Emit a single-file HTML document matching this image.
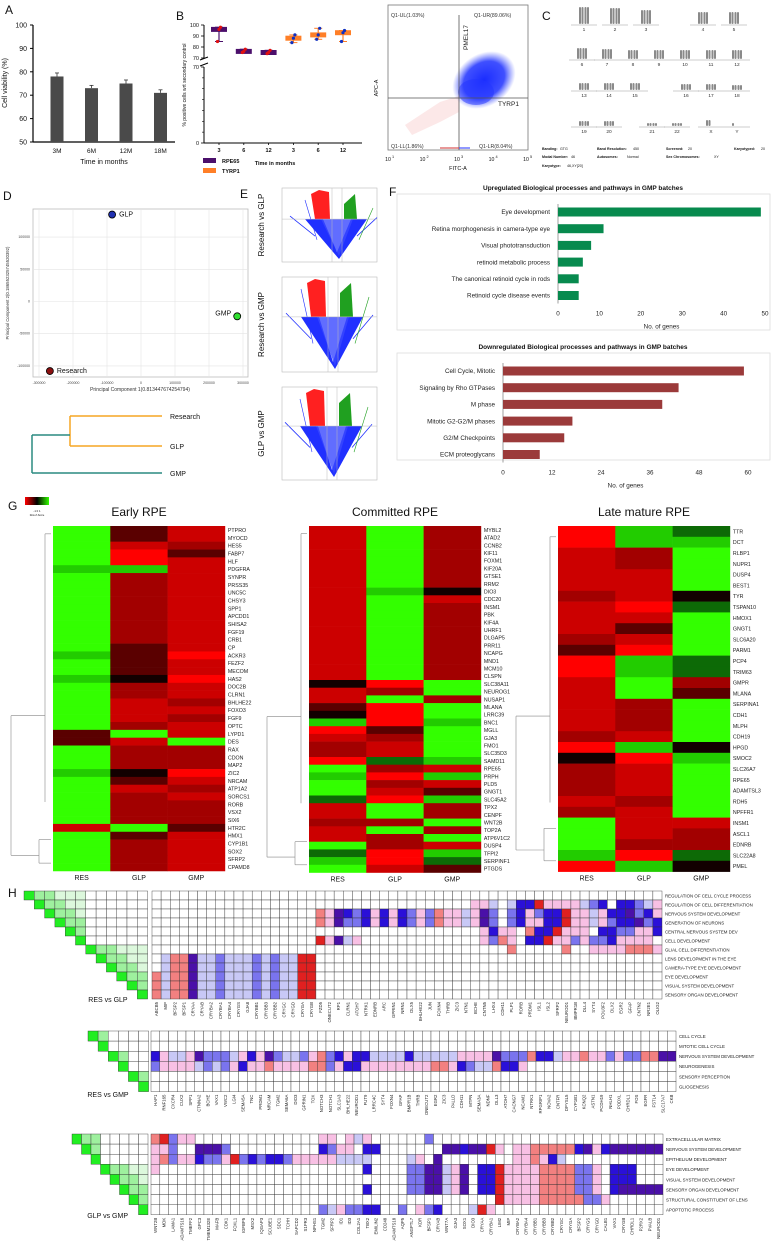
<!DOCTYPE html>
<html><head><meta charset="utf-8"><style>
html,body{margin:0;padding:0;background:#fff}
svg{display:block;font-family:"Liberation Sans",Arial,sans-serif}
</style></head><body>
<svg id="fig" width="775" height="1249" viewBox="0 0 775 1249" xmlns="http://www.w3.org/2000/svg">
<g id="root"></g>
</svg>
<script>
// ---------- DATA ----------
const aCats=["3M","6M","12M","18M"];
const aVals=[78,73,75,71];
const aErr=[1.5,1.2,1.5,1.3];
const bCats=["3","6","12","3","6","12"];
const bMed=[96,76,75,88,91,93];
const bMin=[85,75,74,84,87,85];
const bMax=[98,78,77,91,97,95];
const pcaLabels=["GLP","GMP","Research"];
const pcaX=[-85000,283000,-268000];
const pcaY=[135000,-23000,-108000];
const upCats=["Eye development","Retina morphogenesis in camera-type eye","Visual phototransduction","retinoid metabolic process","The canonical retinoid cycle in rods","Retinoid cycle disease events"];
const upVals=[49,11,8,6,5,5];
const upTicks=[0,10,20,30,40,50];
const dnCats=["Cell Cycle, Mitotic","Signaling by Rho GTPases","M phase","Mitotic G2-G2/M phases","G2/M Checkpoints","ECM proteoglycans"];
const dnVals=[59,43,39,17,15,9];
const dnTicks=[0,12,24,36,48,60];
const earlyGenes=["PTPRO","MYOCD","HES5","FABP7","HLF","PDGFRA","SYNPR","PRSS35","UNC5C","CHSY3","SPP1","APCDD1","SHISA2","FGF19","CRB1","CP","ACKR3","FEZF2","MECOM","HAS2","DOC2B","CLRN1","BHLHE22","FOXO3","FGF9","OPTC","LYPD1","DES","RAX","CDON","MAP2","ZIC2","NRCAM","ATP1A2","SORCS1","RORB","VSX2","SIX6","HTR2C","HMX1","CYP1B1","SOX2","SFRP2","CPAMD8"];
const earlyVals=["Gkr","Gkr","Grm","GRk","GRr","ggr","Gmr","Gmr","Gmr","Gmr","Gmr","Gmr","Gmr","Gmr","Gmr","Gkr","gkR","Gkr","Gkr","gbR","Gmr","Gmr","Grm","Grr","Grm","Gmr","kGr","krG","Gmm","Gmm","Gmm","gbR","Gkr","Grm","Gmr","Gmm","Gmm","Gmm","rGk","Gkr","Gmr","Gmr","Gmr","Gmr"];
const commGenes=["MYBL2","ATAD2","CCNB2","KIF11","FOXM1","KIF20A","GTSE1","RRM2","DIO3","CDC20","INSM1","PBK","KIF4A","UHRF1","DLGAP5","PRR11","NCAPG","MND1","MCM10","CLSPN","SLC38A11","NEUROG1","NUSAP1","MLANA","LRRC39","BNC1","MGLL","GJA3","FMO1","SLC35D3","SAMD11","RPE65","PRPH","PLD5","GNGT1","SLC45A2","TPX2","CENPF","WNT2B","TOP2A","ATP6V1C2","DUSP4","TFPI2","SERPINF1","PTGDS"];
const commVals=["rGm","rGm","rGm","rGm","rGm","rGm","rGm","rGm","rgb","rGr","rGm","rGm","rGm","rGm","rGm","rGm","rGm","rGm","rGm","rGm","bRG","rmG","rGm","kRG","bRG","gRg","RkG","rmG","mrG","mrG","Rdg","Gmr","gRg","Gmr","Grk","dRg","rGm","rGm","mmG","rGm","rmG","Gmr","dRg","gRd","Grk"];
const lateGenes=["TTR","DCT","RLBP1","NUPR1","DUSP4","BEST1","TYR","TSPAN10","HMOX1","GNGT1","SLC6A20","PARM1","PCP4","TRIM63","GMPR","MLANA","SERPINA1","CDH1","MLPH","CDH19","HPGD","SMOC2","SLC26A7","RPE65","ADAMTSL3","RDH5","NPFFR1","INSM1","ASCL1","EDNRB","SLC22A8","PMEL"];
const lateVals=["Rgd","Rgg","rmG","rmG","rrG","rrG","mrb","rRd","rrG","rkG","mrG","kRG","Rgd","Rgd","rGm","rGk","rmG","rmG","rmG","mrG","Rgb","bRg","mrG","mrG","mrG","rmG","mrG","Grr","Grm","Gmm","gRd","Rgb"];
const h1Rows=["REGULATION OF CELL CYCLE PROCESS","REGULATION OF CELL DIFFERENTIATION","NERVOUS SYSTEM DEVELOPMENT","GENERATION OF NEURONS","CENTRAL NERVOUS SYSTEM DEV","CELL DEVELOPMENT","GLIAL CELL DIFFERENTIATION","LENS DEVELOPMENT IN THE EYE","CAMERA-TYPE EYE DEVELOPMENT","EYE DEVELOPMENT","VISUAL SYSTEM DEVELOPMENT","SENSORY ORGAN DEVELOPMENT"];
const h1Genes=["ABCB5","MIP","BFSP2","BFSP1","CRYAA","CRYAB","CRYBA2","CRYBA1","CRYBA4","CRYGS","GJA8","CRYBB1","CRYBB3","CRYBB2","CRYGC","CRYGD","CRYGA","CRYGB","FZD5","ONECUT2","RP1","CLRN1","ATOH7","NTRK1","EDNRB","ARC","GPRIN1","NRN1","DLX5","BHLHE22","JUN","FOXN4","THRB","ZIC3","NTN1","BCHE","CNTN5","LHX4","CDH11","PLP1","RORB","PRDM1","ISL1","ISL2","SFRP2","NEUROD1","BMPR1B","DLL4","SYT4","POU3F2","DLX2","EGR2","GFAP","CNTN2","NR2E1","OLIG2"];
const h1Vals=["........................................................",
"...................................ppl.lBBRpppplbB.BBblpB",
"..................rpPBbBpBpBbpbrpplpPb.bBpbBBRpplpBBPbBpB",
"..................rpPbbBpBpBbpbrpplpPb.bBppBBRpplpbBBPbBpB",
"....................................pBpp.rBBRppp.BBbbppB",
"..................RpPlp.............pbrp.BBRppbpbbBpppp.B",
".......................................r.....r..pppprrrpp",
".lrrPllblllblbllRR......................................",
".lrrPllblllblbllRR......................................",
"rlrrPllblllblbllRR......................................",
"rlrrPllblllblbllRR......................................",
"rlrrPllblllblbllRR......................................"];
const h2Rows=["CELL CYCLE","MITOTIC CELL CYCLE","NERVOUS SYSTEM DEVELOPMENT","NEUROGENESIS","SENSORY PERCEPTION","GLIOGENESIS"];
const h2Genes=["HAP1","RNF165","CXCR4","CUX2","SPP1","CTNNA2","BCHE","VAX1","VWC2","LGI4","SEMA5A","TNC","PRDM1","NRCAM","TGM2","SEMA6A","DIO3","GPRIN1","TOX","NOTCH3","NOTCH1","SLC1A3","BHLHE22","NEUROD1","FUT9","LRRC4C","SYT4","FOXN4","GFAP","BMPR1B","THRB","ONECUT2","EGR2","ZIC3","PALLD","CDH11","MTPN","SEMA3A","NDNF","DLL3","ATOH7","CACNG7","NCAM1","NTRK1","RPGRIP1","NOVA2","CNTFR","DPYSL5","CYP1B1","KCNQ2","ASTN1","PCDH19","NHLH1","PODXL","CHRDL1","FOS","EGFR","FSTL4","SLC17A7","CKB"];
const h2Vals=["............................................................",
"............................................................",
"BpllpPbbblpBpPbllbprbBpBBllllBlllllppppPbbbrBBlpprppbpbbrrPPR",
"bpppplblbpBpprpppprrbpBBpppppppprrpBbllrBBp.................",
"............................................................",
"............................................................"];
const h3Rows=["EXTRACELLULAR MATRIX","NERVOUS SYSTEM DEVELOPMENT","EPITHELIUM DEVELOPMENT","EYE DEVELOPMENT","VISUAL SYSTEM DEVELOPMENT","SENSORY ORGAN DEVELOPMENT","STRUCTURAL CONSTITUENT OF LENS","APOPTOTIC PROCESS"];
const h3Genes=["WNT2B","MDK","LAMA1","ADAMTS16","TMEFF2","GPC3","TMEM132E","MAFB","CDK1","FOXL1","IGFBP5","MSX2","IQGAP3","SCUBE1","SDC1","TCHH","SAPCD2","S1PR3","NPHS1","TGM2","SFRP2","ID1","ID3","COL2A1","TBX2","EMILIN2","CD248","ADAMTS18","AQP5","ANGPTL7","KDR","BFSP1","CRYAB","WNT7A","GJA3","SOX1","DIO3","CRYAA","CRYBA1","LIM2","MIP","CRYBA2","CRYBA4","CRYBB1","CRYBB3","CRYBB2","CRYGC","CRYGA","BFSP2","CRYGS","CRYGD","CALB1","VAX1","CRYGB","CHRDL1","P2RX2","PVALB","NEUROD1"];
const h3Vals=["rRbpp..............pp.plp......b..........................",
"ppb..PPPb..........Bbpp.BB.......PPBPPRp.pprrrrrBPpBPPPPPP",
"prbppBbbpRbBbBBbpppppllll....lp.P........pprpBl...........",
"p.......................B....bbPPlpP.BBRpppprrrrbbp.BBB...",
".............................bbPPlpP.BBRpppprrrrbbp.BBB...",
"........................B....bbPPlpP.BBRpppprrrrbbp.BPPPPP",
".......................................Rpppprrrrrbbp......",
"...................blpbbBB..b.pbB...lRp..................."];

// ---------- HELPERS ----------
const NS="http://www.w3.org/2000/svg";
const root=document.getElementById('root');
function mk(tag,attrs,parent){const e=document.createElementNS(NS,tag);for(const k in attrs)e.setAttribute(k,attrs[k]);(parent||root).appendChild(e);return e;}
function tx(x,y,s,size,opts,parent){opts=opts||{};const e=mk('text',{x:x,y:y,'font-size':size,fill:opts.fill||'#111','text-anchor':opts.anchor||'start','font-weight':opts.bold?'bold':'normal'},parent);if(opts.rot!==undefined)e.setAttribute('transform','rotate('+opts.rot+' '+x+' '+y+')');e.textContent=s;return e;}
function ln(x1,y1,x2,y2,c,w,parent){return mk('line',{x1:x1,y1:y1,x2:x2,y2:y2,stroke:c||'#000','stroke-width':w||1},parent);}
function grp(name){const g=mk('g',{});return g;}

// ---------- PANEL A ----------
(function(){
const g=grp('panel-a-viability-chart');
let t=tx(5,14,'A',12,{},g);
const y=v=>142-(v-50)*117/50;
const x=i=>57+i*34.5;
ln(33,25,33,142,'#000',1.2,g);ln(33,142,175,142,'#000',1.2,g);
for(let v=50;v<=100;v+=10){ln(30,y(v),33,y(v),'#000',1,g);tx(27,y(v)+2.5,String(v),7,{anchor:'end'},g);}
aVals.forEach((v,i)=>{
 const r=mk('rect',{x:x(i)-6.5,y:y(v),width:13,height:142-y(v),fill:'#4a4a4a'},g);
 
 ln(x(i),y(v),x(i),y(v+aErr[i]),'#333',0.8,g);ln(x(i)-2,y(v+aErr[i]),x(i)+2,y(v+aErr[i]),'#333',0.8,g);
 tx(x(i),153,aCats[i],6.5,{anchor:'middle'},g);
});
tx(104,164,'Time in months',7,{anchor:'middle'},g);
tx(7,83,'Cell viability (%)',7,{anchor:'middle',rot:-90},g);
})();

// ---------- PANEL B ----------
(function(){
const g=grp('panel-b-boxplot');
tx(176,20,'B',12,{},g);
const yU=v=>58-(v-70)*33/30;
const yL=v=>143-v*76/70;
const x=i=>219+i*24.8;
ln(204,25,204,58,'#000',1,g);ln(204,67,204,143,'#000',1,g);ln(200,60,208,57,'#000',1,g);ln(200,66,208,63,'#000',1,g);
ln(204,143,362,143,'#000',1,g);
[100,90,80,70].forEach(v=>{ln(201,yU(v),204,yU(v),'#000',0.8,g);tx(199,yU(v)+2,String(v),5.5,{anchor:'end'},g);});
[70,0].forEach(v=>{ln(201,yL(v),204,yL(v),'#000',0.8,g);tx(199,yL(v)+2,String(v),5.5,{anchor:'end'},g);});
for(let v=10;v<70;v+=10)ln(202,yL(v),204,yL(v),'#000',0.6,g);
bMed.forEach((m,i)=>{
 const col=i<3?'#4b0f6b':'#ff7f27', dot=i<3?'#e01010':'#1030c0';
 ln(x(i),yU(bMin[i]),x(i),yU(bMax[i]),col,1.2,g);
 ln(x(i)-4,yU(bMin[i]),x(i)+4,yU(bMin[i]),col,1,g);ln(x(i)-4,yU(bMax[i]),x(i)+4,yU(bMax[i]),col,1,g);
 const r=mk('rect',{x:x(i)-8,y:yU(m)-2.5,width:16,height:5,fill:col},g);
 
 [bMin[i],m,bMax[i]].forEach((v,k)=>mk('circle',{cx:x(i)+(k-1)*1.5,cy:yU(v),r:1.6,fill:dot},g));
 ln(x(i),143,x(i),145,'#000',0.8,g);tx(x(i),152,bCats[i],5.5,{anchor:'middle',bold:true},g);
});
tx(186,85,'% positive cells wrt secondary control',5,{anchor:'middle',rot:-90},g);
const l1=mk('rect',{x:203,y:158,width:13,height:5,fill:'#4b0f6b'},g);
tx(222,163,'RPE65',5.5,{bold:true},g);
const l2=mk('rect',{x:203,y:168,width:13,height:5,fill:'#ff7f27'},g);
tx(222,173,'TYRP1',5.5,{bold:true},g);
tx(275,165,'Time in months',5.5,{anchor:'middle',bold:true},g);
})();

// ---------- FLOW CYTOMETRY ----------
(function(){
const g=grp('flow-cytometry-plot');
mk('rect',{x:388,y:5,width:140,height:145,fill:'#fff',stroke:'#777','stroke-width':0.8},g);
const grad=mk('radialGradient',{id:'blob',cx:'50%',cy:'50%',r:'50%'},g);
mk('stop',{offset:'0%','stop-color':'#1a2cff'},grad);mk('stop',{offset:'65%','stop-color':'#2a3cff','stop-opacity':0.9},grad);mk('stop',{offset:'100%','stop-color':'#5060ff','stop-opacity':0},grad);
mk('ellipse',{cx:484,cy:80,rx:34,ry:26,fill:'url(#blob)',transform:'rotate(-35 484 80)'},g);
mk('ellipse',{cx:476,cy:92,rx:18,ry:13,fill:'#2233ff','fill-opacity':0.5},g);
mk('polygon',{points:'405,125 440,102 459,96 459,112 440,122 412,135',fill:'#f08080','fill-opacity':0.18},g);
ln(459,15,459,150,'#555',0.8,g);ln(388,98,528,98,'#555',0.8,g);
ln(440,148,459,148,'#d03030',1,g);ln(459,148,470,148,'#2030ff',1,g);
tx(391,17,'Q1-UL(1.03%)',5.2,{fill:'#333'},g);tx(474,17,'Q1-UR(89.06%)',5.2,{fill:'#333'},g);
tx(391,148,'Q1-LL(1.86%)',5.2,{fill:'#333'},g);tx(479,148,'Q1-LR(8.04%)',5.2,{fill:'#333'},g);
tx(468,50,'PMEL17',6.5,{rot:-90,fill:'#222'},g);tx(498,106,'TYRP1',6.5,{fill:'#222'},g);
['1','2','3','4','5'].forEach((e,i)=>{const xx=388+i*34.5;tx(xx,161,'10',5.2,{anchor:'middle'},g);tx(xx+4,158,e,3.8,{},g);});
tx(458,170,'FITC-A',5.5,{anchor:'middle'},g);
tx(378,88,'APC-A',5.5,{anchor:'middle',rot:-90},g);
})();

// ---------- KARYOTYPE C ----------
(function(){
const g=grp('panel-c-karyotype');
tx(542,20,'C',12,{},g);
const rows=[[["1",584],["2",615],["3",646],["4",703],["5",734]],[["6",582],["7",607],["8",633],["9",659],["10",685],["11",711],["12",737]],[["13",584],["14",609],["15",635],["16",686],["17",711],["18",737]],[["19",584],["20",609],["21",652],["22",677],["X",711],["Y",737]]];
const ly=[25,60,91,127],hts=[[17,16,14,12,12],[11,10,9,9,9,9,9],[7,7,7,6,6,5],[5,5,3,3,6,3]];
rows.forEach((r,ri)=>r.forEach(([n,x],ci)=>{
 ln(x-13,ly[ri],x+13,ly[ri],'#999',0.6,g);
 const h=hts[ri][ci];
 [-4,-1.5,1.5,4].forEach((d,k)=>{ if(n==='Y'&&k>0)return; if(n==='X'&&k>1)return; mk('rect',{x:x+d-1,y:ly[ri]-h-1,width:2,height:h,rx:1,fill:'#8a8a8a'},g);});
 tx(x,ly[ri]+6,n,4.8,{anchor:'middle',fill:'#333'},g);
}));
tx(542,150,'Banding:',3.6,{bold:true},g);tx(560,150,'GTG',3.6,{},g);
tx(597,150,'Band Resolution:',3.6,{bold:true},g);tx(633,150,'450',3.6,{},g);
tx(666,150,'Screened:',3.6,{bold:true},g);tx(688,150,'20',3.6,{},g);
tx(734,150,'Karyotyped:',3.6,{bold:true},g);tx(761,150,'20',3.6,{},g);
tx(542,158,'Modal Number:',3.6,{bold:true},g);tx(571,158,'46',3.6,{},g);
tx(597,158,'Autosomes:',3.6,{bold:true},g);tx(627,158,'Normal',3.6,{},g);
tx(666,158,'Sex Chromosomes:',3.6,{bold:true},g);tx(714,158,'XY',3.6,{},g);
tx(542,167,'Karyotype:',3.6,{bold:true},g);tx(567,167,'46,XY[20]',3.6,{},g);
})();

// ---------- PANEL D ----------
(function(){
const g=grp('panel-d-pca');
tx(3,200,'D',12,{},g);
const X=v=>141+v*(204/600000), Y=v=>301.5-v*(32.2/50000);
mk('rect',{x:33,y:209,width:215,height:168,fill:'#fff',stroke:'#bbb','stroke-width':0.8},g);
[-300000,-200000,-100000,0,100000,200000,300000].forEach(v=>{ln(X(v),209,X(v),377,'#e4e4e4',0.6,g);tx(X(v),384,String(v),3.5,{anchor:'middle',fill:'#444'},g);});
[100000,50000,0,-50000,-100000].forEach(v=>{ln(33,Y(v),248,Y(v),'#e4e4e4',0.6,g);tx(30,Y(v)+1,String(v),3.5,{anchor:'end',fill:'#444'},g);});
tx(140,391,'Principal Component 1(0.813447674254794)',5,{anchor:'middle',fill:'#333'},g);
tx(9,293,'Principal Component 2(0.186552325745520392)',4.3,{anchor:'middle',rot:-90,fill:'#333'},g);
const cols=['#2030b0','#30e030','#8b1010'];
pcaLabels.forEach((l,i)=>{
 const c=mk('circle',{cx:X(pcaX[i]),cy:Y(pcaY[i]),r:3.5,fill:cols[i],stroke:'#000','stroke-width':0.8},g);
 
 if(l==='GMP')tx(X(pcaX[i])-6,Y(pcaY[i])-1,l,7,{anchor:'end'},g);else tx(X(pcaX[i])+7,Y(pcaY[i])+2,l,7,{},g);
});
ln(70,416,162,416,'#f5a623',1.5,g);ln(70,446,162,446,'#f5a623',1.5,g);ln(70,416,70,446,'#f5a623',1.5,g);
ln(32,435,70,435,'#2a8a80',1.5,g);ln(32,435,32,473,'#2a8a80',1.5,g);ln(32,473,162,473,'#2a8a80',1.5,g);
tx(170,419,'Research',7,{},g);tx(170,449,'GLP',7,{},g);tx(170,476,'GMP',7,{},g);
})();

// ---------- PANEL E ----------
(function(){
const g=grp('panel-e-volcano-plots');
tx(240,198,'E',12,{},g);
const plots=[[188,262,337,'Research vs GLP'],[277,372,333,'Research vs GMP'],[387,480,332,'GLP vs GMP']];
plots.forEach(([t,b,cx,lab])=>{
 const sg=mk('g',{},g);
 mk('rect',{x:282,y:t,width:95,height:b-t,fill:'#fff',stroke:'#bbb','stroke-width':0.6},sg);
 const th=t+(b-t)*0.42;
 mk('polygon',{points:`${cx-32},${th} ${cx-14},${th} ${cx},${b-10} ${cx+14},${th} ${cx+30},${th} ${cx+2},${b-3}`,fill:'#2030ff'},sg);
 mk('polygon',{points:`${cx-16},${th} ${cx+16},${th} ${cx+2},${b-6}`,fill:'#3a48ff','fill-opacity':0.8},sg);
 mk('polygon',{points:`${cx-26},${t+6} ${cx-18},${t+2} ${cx-8},${t+4} ${cx-7},${th} ${cx-22},${th}`,fill:'#ff2020'},sg);
 mk('polygon',{points:`${cx+7},${t+16} ${cx+18},${t+6} ${cx+20},${th} ${cx+7},${th}`,fill:'#20a020'},sg);
 ln(cx-47,b-(b-t)*0.62,cx-22,b-(b-t)*0.35,'#2030ff',0.8,sg);ln(cx+40,b-(b-t)*0.6,cx+20,b-(b-t)*0.35,'#2030ff',0.8,sg);
 ln(cx-32,t+12,cx-20,b-(b-t)*0.3,'#2030ff',0.6,sg);ln(cx+36,t+20,cx+22,b-(b-t)*0.3,'#20a020',0.6,sg);
 ln(282,th,377,th,'#bbb',0.5,sg);ln(cx-5,t,cx-5,b,'#bbb',0.5,sg);ln(cx+5,t,cx+5,b,'#bbb',0.5,sg);
 tx(264,(t+b)/2,lab,8,{anchor:'middle',rot:-90},sg);
});
})();

// ---------- PANEL F ----------
function hbar(name,title,ty,boxY,boxH,x0,x1,cats,vals,ticks,maxv,col,cy0){
 const g=grp(name);
 tx(583,ty,title,6.5,{anchor:'middle',bold:true},g);
 mk('rect',{x:397,y:boxY,width:373,height:boxH,fill:'#fff',stroke:'#ddd','stroke-width':0.8},g);
 const X=v=>x0+v*(x1-x0)/maxv;
 ln(x0,cy0-8,x0,cy0+16.7*5+8,'#888',0.8,g);
 cats.forEach((c,i)=>{const cy=cy0+i*16.7;
  const r=mk('rect',{x:x0,y:cy-4.5,width:X(vals[i])-x0,height:9,fill:col},g);
  
  tx(x0-8,cy+2.2,c,6.3,{anchor:'end',fill:'#222'},g);});
 ticks.forEach(v=>tx(X(v),cy0+16.7*5+20,String(v),6.3,{anchor:'middle',fill:'#222'},g));
 tx((x0+x1)/2,cy0+16.7*5+33,'No. of genes',6.3,{anchor:'middle',fill:'#222'},g);
 return g;
}
tx(389,196,'F',12,{});
hbar('upregulated-bar-chart','Upregulated Biological processes and pathways in GMP batches',190,194,136,558,765,upCats,upVals,upTicks,50,'#078a4e',212);
hbar('downregulated-bar-chart','Downregulated Biological processes and pathways in GMP batches',349,353,107,503,748,dnCats,dnVals,dnTicks,60,'#9b3a3a',371);

// ---------- PANEL G ----------
const colMap={G:'#33ff00',g:'#22cc00',d:'#0d6a06',R:'#ff0000',r:'#cc0000',m:'#a20000',k:'#5a0000',b:'#120000'};
function heat(name,title,x0,top,rowH,genes,vals){
 const g=grp(name);
 tx(x0+86,516,title,12,{anchor:'middle',fill:'#111'},g);
 const cw=57.3;
 genes.forEach((gn,i)=>{
  for(let j=0;j<3;j++){const r=mk('rect',{x:x0+j*cw,y:top+i*rowH,width:cw+0.3,height:rowH+0.3,fill:colMap[vals[i][j]]},g);
   }
  tx(x0+3*cw+3,top+i*rowH+rowH/2+2,gn,5.3,{fill:'#222'},g);
 });
 ['RES','GLP','GMP'].forEach((l,j)=>tx(x0+j*cw+cw/2,top+genes.length*rowH+9,l,7,{anchor:'middle'},g));
 const n=genes.length, bot=top+n*rowH;
 const dx=x0-2;
 ln(dx-40,top+n*rowH*0.55,dx-40,bot-rowH*2,'#888',0.6,g);ln(dx-40,top+n*rowH*0.55,dx-6,top+n*rowH*0.55,'#888',0.6,g);
 ln(dx-40,bot-rowH*2,dx-12,bot-rowH*2,'#888',0.6,g);
 ln(dx-6,top+rowH,dx-6,top+n*rowH*0.8,'#888',0.6,g);ln(dx-12,bot-rowH*4,dx-12,bot-rowH,'#888',0.6,g);
 ln(dx-12,bot-rowH*4,dx,bot-rowH*4,'#888',0.6,g);ln(dx-12,bot-rowH,dx,bot-rowH,'#888',0.6,g);
 ln(dx-6,top+rowH,dx,top+rowH,'#888',0.6,g);
}
(function(){
tx(8,510,'G',12,{});
const lg=mk('defs',{});const gr=mk('linearGradient',{id:'rg',x1:0,x2:1,y1:0,y2:0},lg);
mk('stop',{offset:'0','stop-color':'#ff0000'},gr);mk('stop',{offset:'0.5','stop-color':'#000'},gr);mk('stop',{offset:'1','stop-color':'#33ff00'},gr);
const k=mk('rect',{x:25,y:497,width:24,height:8,fill:'url(#rg)'});
tx(37,512,'-1   0   1',2.8,{anchor:'middle'});tx(37,516,'Row Z-Score',2.5,{anchor:'middle'});
heat('heatmap-early-rpe','Early RPE',53,526,7.84,earlyGenes,earlyVals);
heat('heatmap-committed-rpe','Committed RPE',309,526,7.7,commGenes,commVals);
heat('heatmap-late-mature-rpe','Late mature RPE',558,526,10.8,lateGenes,lateVals);
})();

// ---------- PANEL H ----------
const hCol={'.':'#fff',p:'#f8c0e4',r:'#f28080',R:'#e02020',l:'#c8c8f6',b:'#7a74ee',B:'#2a10d8',P:'#4a10a8'};
function grid(name,x0,x1,top,rowH,rows,genes,vals,triX0,triCW,clusters,tag,tagY){
 const g=grp(name);
 const n=genes.length,cw=(x1-x0)/n;
 rows.forEach((rn,i)=>{
  for(let j=0;j<n;j++){const ch=(vals[i][j]||'.');
   const r=mk('rect',{x:x0+j*cw,y:top+i*rowH,width:cw,height:rowH,fill:hCol[ch]||'#fff',stroke:'#333','stroke-width':0.4},g);
   }
  tx(x1+3,top+i*rowH+rowH/2+1.8,rn,4.4,{fill:'#222'},g);
  const m=rows.length;
  for(let j=i;j<m;j++){
   let f='#fff'; if(j===i)f='#22ee22'; else if(clusters[i]===clusters[j])f=(j-i<=2?'#9ef09e':'#dcf8dc');
   mk('rect',{x:triX0+j*triCW,y:top+i*rowH,width:triCW,height:rowH,fill:f,stroke:'#333','stroke-width':0.4},g);
  }
 });
 genes.forEach((gn,j)=>tx(x0+j*cw+cw/2+1.5,top+rows.length*rowH+3,gn,4.3,{anchor:'end',rot:-90,fill:'#222'},g));
 tx(triX0+triCW*rows.length-20,tagY,tag,7,{anchor:'end'},g);
}
tx(8,897,'H',12,{});
grid('go-grid-res-vs-glp',152,662,891,9,h1Rows,h1Genes,h1Vals,24,10.3,[0,0,0,0,0,0,1,1,1,1,1,1],'RES vs GLP',1002);
grid('go-grid-res-vs-gmp',151,676,1031,10.1,h2Rows,h2Genes,h2Vals,88,10.1,[0,0,1,1,2,2],'RES vs GMP',1097);
grid('go-grid-glp-vs-gmp',151,663,1134,10.1,h3Rows,h3Genes,h3Vals,72,9.5,[0,0,0,1,1,1,1,1],'GLP vs GMP',1218);
</script>
</body></html>
